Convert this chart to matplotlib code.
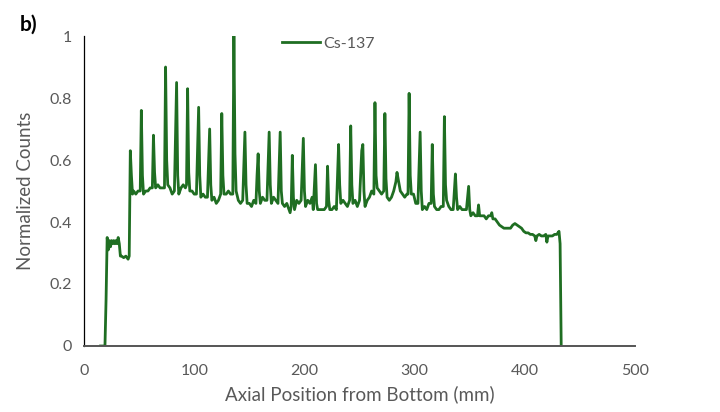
import matplotlib.pyplot as plt

# axial scan, Cs-137 normalized counts
pos = [15, 19, 20, 21, 22, 23, 24, 25, 26, 27, 28, 29, 30, 31, 32, 33, 34, 36, 38, 40, 41,
       42, 43, 44, 45, 47, 49, 51, 52, 53, 54, 56, 58, 60, 62, 63, 64, 65, 67, 69, 71, 73,
       74, 75, 76, 78, 80, 82, 84, 85, 86, 88, 90, 92, 93, 94, 95, 96, 98, 100, 102, 104,
       105, 106, 108, 110, 112, 114, 115, 116, 118, 120, 122, 124, 125, 126, 127, 129, 131,
       133, 135, 136, 137, 138, 140, 142, 144, 146, 147, 148, 150, 152, 154, 156, 157, 158,
       159, 160, 162, 164, 166, 168, 169, 170, 172, 174, 176, 178, 179, 180, 182, 184, 186,
       187, 188, 189, 190, 191, 193, 195, 197, 199, 200, 201, 203, 205, 207, 208, 210, 211,
       212, 214, 216, 218, 220, 221, 222, 223, 225, 227, 229, 231, 232, 233, 235, 237, 239,
       241, 242, 243, 244, 246, 248, 250, 252, 253, 254, 255, 257, 259, 261, 263, 264, 265,
       266, 268, 270, 272, 273, 274, 275, 277, 279, 281, 283, 284, 285, 287, 289, 291, 293,
       294, 295, 296, 297, 299, 301, 303, 305, 306, 307, 309, 311, 313, 315, 316, 317, 318,
       320, 322, 324, 326, 327, 328, 329, 331, 333, 335, 337, 338, 339, 341, 343, 345, 347,
       349, 350, 351, 353, 355, 357, 358, 359, 361, 363, 365, 367, 369, 370, 371, 373, 375,
       377, 379, 381, 383, 385, 387, 389, 391, 393, 395, 397, 399, 401, 403, 405, 407, 409,
       410, 411, 413, 415, 417, 419, 420, 421, 423, 425, 427, 429, 431, 432, 433]
counts = [0.0, 0.0, 0.15, 0.35, 0.31, 0.34, 0.32, 0.34, 0.33, 0.34, 0.33, 0.34, 0.33, 0.35,
          0.33, 0.29, 0.29, 0.285, 0.29, 0.28, 0.29,
          0.63, 0.55, 0.49, 0.50, 0.49, 0.50, 0.50, 0.76, 0.55, 0.49, 0.50, 0.50, 0.51, 0.51,
          0.68, 0.56, 0.51, 0.52, 0.51, 0.51, 0.51,
          0.90, 0.60, 0.52, 0.51, 0.49, 0.50, 0.85, 0.55, 0.49, 0.51, 0.52, 0.51, 0.52, 0.83,
          0.56, 0.50, 0.50, 0.49, 0.49, 0.77,
          0.55, 0.48, 0.49, 0.48, 0.48, 0.70, 0.52, 0.47, 0.48, 0.46, 0.47, 0.49, 0.75, 0.55,
          0.49, 0.49, 0.50,
          0.49, 0.49, 1.00, 0.62, 0.50, 0.47, 0.46, 0.47, 0.69, 0.52, 0.46, 0.46, 0.45, 0.47,
          0.46, 0.55, 0.62,
          0.50, 0.46, 0.48, 0.47, 0.47, 0.69, 0.52, 0.46, 0.48, 0.47, 0.46, 0.69, 0.50, 0.46,
          0.45, 0.46, 0.44,
          0.43, 0.45, 0.615, 0.48, 0.44, 0.47, 0.46, 0.47, 0.67, 0.50, 0.45, 0.47, 0.46, 0.48,
          0.44, 0.585, 0.46,
          0.44, 0.44, 0.44, 0.44, 0.45, 0.58, 0.47, 0.44, 0.44, 0.45, 0.44, 0.65, 0.52, 0.46,
          0.47, 0.46, 0.45,
          0.47, 0.71, 0.52, 0.46, 0.47, 0.45, 0.47, 0.63, 0.65, 0.50, 0.45, 0.47, 0.48, 0.50,
          0.49, 0.785, 0.55,
          0.51, 0.50, 0.49, 0.50, 0.75, 0.54, 0.48, 0.47, 0.48, 0.50, 0.53, 0.56, 0.54, 0.50,
          0.49, 0.48, 0.49,
          0.49, 0.815, 0.55, 0.49, 0.49, 0.46, 0.46, 0.69, 0.50, 0.44, 0.45, 0.44, 0.46, 0.46,
          0.65, 0.49, 0.45,
          0.44, 0.44, 0.45, 0.45, 0.74, 0.52, 0.47, 0.45, 0.44, 0.44, 0.555, 0.48, 0.44, 0.45,
          0.44, 0.44, 0.44,
          0.515, 0.44, 0.42, 0.43, 0.42, 0.42, 0.455, 0.42, 0.42, 0.42, 0.41, 0.42, 0.42, 0.43,
          0.41, 0.41, 0.40,
          0.39, 0.385, 0.38, 0.38, 0.38, 0.38, 0.39, 0.395, 0.39, 0.385, 0.38, 0.37, 0.365,
          0.365, 0.36, 0.36, 0.355,
          0.34, 0.355, 0.36, 0.355, 0.355, 0.36, 0.335, 0.355, 0.355, 0.355, 0.36, 0.36, 0.37,
          0.33, 0.0]

xticks = [0, 100, 200, 300, 400, 500]
yticks = [0, 0.2, 0.4, 0.6, 0.8, 1]
ylabels = ['0', '0.2', '0.4', '0.6', '0.8', '1']

grey = '#595959'
plt.rcParams['font.family'] = ['Lato', 'DejaVu Sans']

fig = plt.figure(figsize=(7.2, 4.12), dpi=100)
ax = fig.add_axes([0.1167, 0.1602, 0.7653, 0.7524])

ax.plot(pos, counts, color='#1f6e22', linewidth=2.0, label='Cs-137')

ax.set_xlim(0, 500)
ax.set_ylim(0, 1)
ax.set_xticks(xticks)
ax.set_yticks(yticks)
ax.set_yticklabels(ylabels)
ax.tick_params(axis='y', length=0, labelsize=11.5, colors=grey, pad=9)
ax.tick_params(axis='x', length=0, labelsize=11.5, colors=grey, pad=13)

ax.spines['top'].set_visible(False)
ax.spines['right'].set_visible(False)
ax.spines['left'].set_color('black')
ax.spines['left'].set_linewidth(0.9)
ax.spines['bottom'].set_color('#555555')
ax.spines['bottom'].set_linewidth(1.4)

ax.set_xlabel('Axial Position from Bottom (mm)', fontsize=13.5, color=grey, labelpad=5)
ax.set_ylabel('Normalized Counts', fontsize=13.5, color=grey, labelpad=11)

ax.legend(loc='upper center', bbox_to_anchor=(0.444, 1.045), frameon=False, fontsize=11.5,
          labelcolor=grey, handlelength=2.4, handletextpad=0.2)

fig.text(0.027, 0.925, 'b)', fontsize=15, fontweight='bold', color='black')

plt.savefig('out.png', dpi=100)
